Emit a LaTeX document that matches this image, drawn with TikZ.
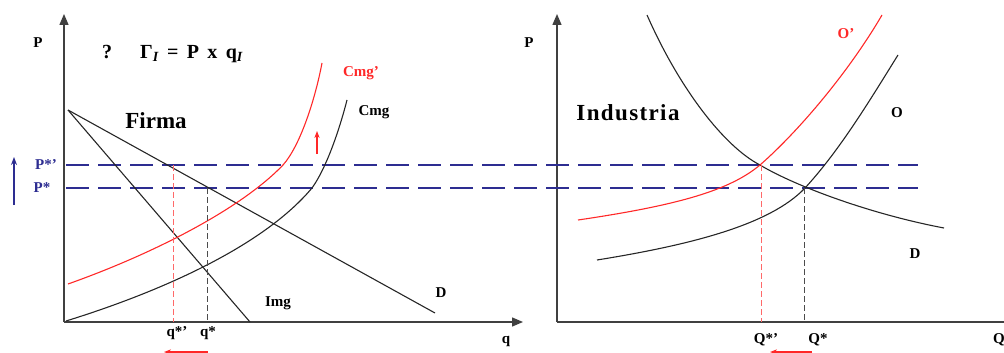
\documentclass[tikz,border=0pt]{standalone}
\usepackage{fontspec}
\setmainfont{Liberation Serif}
\usetikzlibrary{arrows.meta}
\definecolor{navy}{RGB}{45,45,145}
\definecolor{lred}{RGB}{255,40,40}
\begin{document}
\begin{tikzpicture}[x=1pt, y=-1pt,
  axis/.style={line width=1.4pt, black!75, -{Triangle[length=11pt,width=9pt]}},
  curve/.style={line width=1.1pt, black!85},
  rcurve/.style={line width=1.1pt, lred},
  price/.style={line width=2.4pt, navy, dash pattern=on 23pt off 9pt},
  drop/.style={line width=1pt, dash pattern=on 6pt off 3pt},
  lab/.style={font=\bfseries\fontsize{15}{16}\selectfont, inner sep=0pt},
  title/.style={font=\bfseries\fontsize{23}{25}\selectfont, inner sep=0pt},
  every node/.style={inner sep=0pt}]
  \useasboundingbox (0,0) rectangle (1004,353);
  % ejes firma
  \draw[axis] (64,322) -- (64,14);
  \draw[axis] (64,322) -- (523,322);
  % ejes industria
  \draw[axis] (557,322) -- (557,14);
  \draw[line width=1.4pt, black!75] (557,322) -- (1004,322);
  % precios
  \draw[price] (66,165) -- (918,165);
  \draw[price] (66,188) -- (918,188);
  % firma
  \draw[curve] (68,110) -- (435,313);
  \draw[curve] (68,110) -- (250,322);
  \draw[curve] (66,321) .. controls (150,295) and (260,250) .. (312,188)
    .. controls (325,170) and (338,135) .. (347,100);
  \draw[rcurve] (68,284) .. controls (150,255) and (240,210) .. (283,165)
    .. controls (300,146) and (315,100) .. (322,63);
  \draw[drop, lred!70] (173,165) -- (173,322);
  \draw[drop, black!70] (207,188) -- (207,322);
  \draw[-{Stealth[length=7pt]}, line width=1.2pt, lred] (317,154) -- (317,131);
  \draw[-{Stealth[length=7pt]}, line width=1.2pt, lred] (208,352) -- (164,352);
  \draw[-{Stealth[length=8pt]}, line width=1.4pt, navy] (14,205) -- (14,157);
  % industria
  \draw[curve] (647,15) .. controls (680,90) and (725,147) .. (760,165)
    .. controls (795,186) and (870,214) .. (944,228);
  \draw[rcurve] (578,220) .. controls (680,205) and (730,190) .. (760,165)
    .. controls (800,130) and (850,70) .. (882,15);
  \draw[curve] (597,260) .. controls (690,245) and (770,225) .. (805,188)
    .. controls (840,150) and (870,100) .. (898,55);
  \draw[drop, lred!70] (761,165) -- (761,322);
  \draw[drop, black!70] (804,188) -- (804,322);
  \draw[-{Stealth[length=7pt]}, line width=1.2pt, lred] (812,352) -- (770,352);
  % textos
  \node[lab] (pfirma) at (38,43) {P};
  \node[lab] (pind) at (529,43) {P};
  \node[font=\bfseries\fontsize{20}{22}\selectfont, anchor=west] (benef) at (102,54) {?\hspace{28pt}Γ\textsubscript{\itshape I} \,=\, P \,x\, q\textsubscript{\itshape I}};
  \node[title] (firma) at (156,121) {Firma};
  \node[title] (industria) at (628,113) {\addfontfeature{LetterSpace=6}Industria};
  \node[lab, lred] (cmgp) at (361,73) {Cmg'};
  \node[lab] (cmg) at (374,112) {Cmg};
  \node[lab, navy] (pstp) at (46,165) {P*'};
  \node[lab, navy] (pst) at (42,188) {P*};
  \node[lab] (img) at (278,303) {Img};
  \node[lab] (dfirma) at (441,293) {D};
  \node[lab] (qstp) at (177,333) {q*'};
  \node[lab] (qst) at (208,333) {q*};
  \node[lab] (q) at (506,341) {q};
  \node[lab, lred] (op) at (846,34) {O'};
  \node[lab] (o) at (897,113) {O};
  \node[lab] (dind) at (915,254) {D};
  \node[lab] (Qstp) at (766,340) {Q*'};
  \node[lab] (Qst) at (818,340) {Q*};
  \node[lab, anchor=west] (Q) at (993,340) {Q};
\end{tikzpicture}
\end{document}
